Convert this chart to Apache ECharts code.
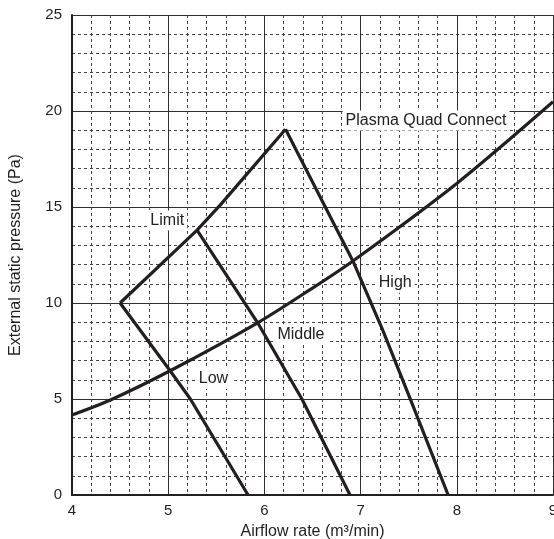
<!DOCTYPE html>
<html>
<head>
<meta charset="utf-8">
<script src="https://cdn.jsdelivr.net/npm/echarts@6/dist/echarts.min.js"></script>
<style>
	html, body { margin: 0; padding: 0; background: #fff; }
	#chart { width: 554px; height: 539px; }
</style>
</head>
<body>
<div id="chart"></div>
<script>
	// curve points: [airflow, pressure]
	var lowCurve = [[4.5, 10], [5.02, 6.47], [5.23, 5], [5.83, 0]];
	var middleCurve = [[5.3, 13.8], [5.93, 8.97], [6.39, 5], [6.89, 0]];
	var highCurve = [[6.22, 19.05], [6.5, 16.3], [6.92, 12.19], [7.23, 8.59], [7.52, 4.95], [7.91, 0]];
	var limitCurve = [[4.5, 10], [5.3, 13.8], [5.54, 15.1], [6.22, 19.05]];
	var pqcCurve = [[4, 4.17], [4.4, 4.95], [5.02, 6.47], [5.93, 8.97], [6.47, 10.68], [6.92, 12.19], [8.0, 16.23], [9.0, 20.48]];

	// text labels and where they sit (data coords)
	var labelNames = ['Limit', 'Plasma Quad Connect', 'High', 'Middle', 'Low'];
	var labelX = [4.99, 7.68, 7.36, 6.38, 5.47];
	var labelY = [14.3, 19.5, 11.05, 8.33, 6.04];

	var ink = '#231f20';
	var font = 'Liberation Sans, Arial, sans-serif';

	var chart = echarts.init(document.getElementById('chart'));

	function curve(name, pts){
		return {
			name: name,
			type: 'line',
			data: pts,
			symbol: 'none',
			smooth: name === 'PQC' ? 0.3 : false,
			lineStyle: { color: ink, width: 3.2 },
			z: 5
		};
	}

	var labelData = [];
	for (var i = 0; i < labelNames.length; i++) {
		labelData.push({ value: [labelX[i], labelY[i]], name: labelNames[i] });
	}

	chart.setOption({
		animation: false,
		grid: { left: 72, top: 15, right: 1, bottom: 44, outerBoundsMode: 'none', containLabel: false },
		xAxis: {
			type: 'value',
			min: 4, max: 9, interval: 1,
			name: 'Airflow rate (m³/min)',
			nameLocation: 'middle',
			nameGap: 29,
			nameTextStyle: { color: ink, fontSize: 16, fontFamily: font },
			axisLine: { show: true, onZero: false, lineStyle: { color: ink, width: 2 } },
			axisTick: { show: false },
			axisLabel: { color: ink, fontSize: 15, fontFamily: font, margin: 8 },
			splitLine: { show: true, lineStyle: { color: '#2f2f2f', width: 1 } },
			minorTick: { show: true, splitNumber: 5, length: 0 },
			minorSplitLine: { show: true, lineStyle: { color: '#444', width: 1, type: [3, 3] } }
		},
		yAxis: {
			type: 'value',
			min: 0, max: 25, interval: 5,
			name: 'External static pressure (Pa)',
			nameLocation: 'middle',
			nameGap: 48,
			nameTextStyle: { color: ink, fontSize: 16, fontFamily: font },
			axisLine: { show: true, onZero: false, lineStyle: { color: ink, width: 2 } },
			axisTick: { show: false },
			axisLabel: { color: ink, fontSize: 15, fontFamily: font, margin: 10 },
			splitLine: { show: true, lineStyle: { color: '#2f2f2f', width: 1 } },
			minorTick: { show: true, splitNumber: 5, length: 0 },
			minorSplitLine: { show: true, lineStyle: { color: '#444', width: 1, type: [3, 3] } }
		},
		series: [
			curve('Low', lowCurve),
			curve('Middle', middleCurve),
			curve('High', highCurve),
			curve('Limit', limitCurve),
			curve('PQC', pqcCurve),
			{
				type: 'scatter',
				data: labelData,
				symbolSize: 0,
				itemStyle: { opacity: 1 },
				z: 4,
				label: {
					show: true,
					position: 'inside',
					formatter: '{b}',
					color: '#222',
					textBorderWidth: 0,
					fontSize: 16,
					fontFamily: font,
					backgroundColor: '#fff',
					padding: [2, 3]
				}
			}
		]
	});
</script>
</body>
</html>
